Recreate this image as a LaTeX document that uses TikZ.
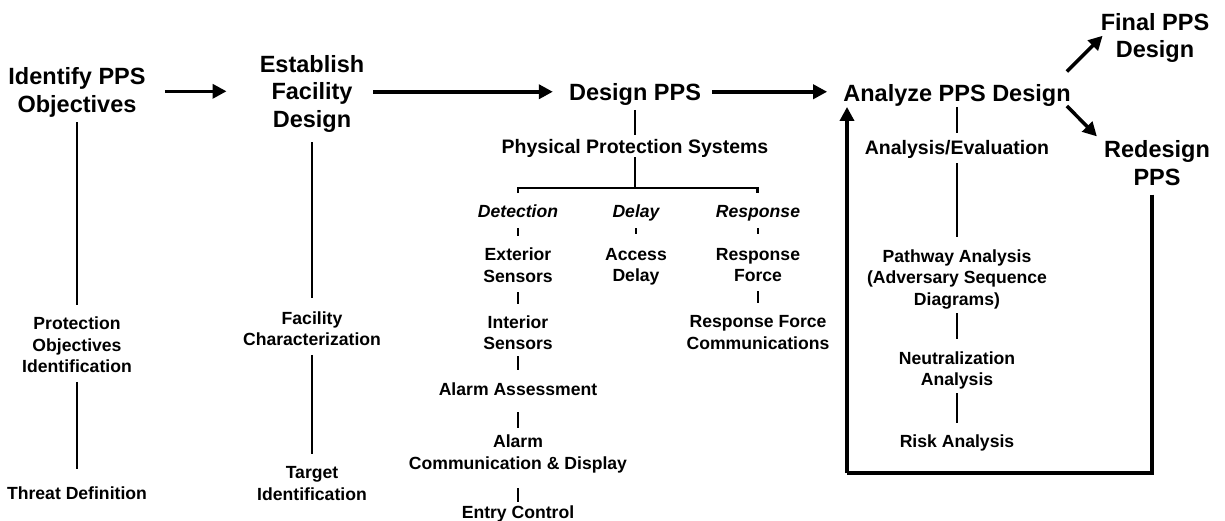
\documentclass[tikz,border=0pt]{standalone}
\usepackage{fontspec}
\setmainfont{Liberation Sans}
\usetikzlibrary{arrows.meta}
\begin{document}
\begin{tikzpicture}[x=1pt,y=-1pt,
  bigt/.style={font=\fontsize{23.5}{27.5}\selectfont\bfseries, align=center, inner sep=0pt},
  midt/.style={font=\fontsize{19.5}{23}\selectfont\bfseries, align=center, inner sep=0pt},
  leaf/.style={font=\fontsize{17.6}{21.5}\selectfont\bfseries, align=center, inner sep=0pt},
  cat/.style={font=\fontsize{17.6}{21.5}\selectfont\bfseries\itshape, inner sep=0pt},
  flow/.style={line width=3.5pt, -{Triangle[length=14pt,width=14pt]}},
  conn/.style={line width=2.3pt},
  tick/.style={line width=2.8pt},
  loopline/.style={line width=4pt}]
\useasboundingbox (0,0) rectangle (1225,520);

% main row
\node[bigt] (ident)    at (77,92.3)    {Identify PPS\\Objectives};
\node[bigt] (estab)    at (312,93.75)  {Establish\\Facility\\Design};
\node[bigt] (design)   at (635,94.75)  {Design PPS};
\node[bigt] (analyze)  at (957,95.75)  {Analyze PPS Design};
\node[bigt] (final)    at (1155,37.75) {Final PPS\\Design};
\node[bigt] (redesign) at (1157,163)   {Redesign\\PPS};

% column 1
\node[leaf] (poi)    at (77,344.8)  {Protection\\Objectives\\Identification};
\node[leaf] (threat) at (77,493.5)  {Threat Definition};
% column 2
\node[leaf] (fc)  at (312,328.75) {Facility\\Characterization};
\node[leaf] (tgt) at (312,483.5)  {Target\\Identification};
% column 3
\node[midt] (pps) at (635,148) {Physical Protection Systems};
\coordinate (brk) at (635,188);
\coordinate (bl) at (518,188);
\coordinate (br) at (757.5,188);
\node[cat] (det) at (518,211) {Detection};
\node[cat] (dly) at (636,213) {Delay};
\node[cat] (rsp) at (758,213) {Response};
\node[leaf] (ext)    at (518,265)    {Exterior\\Sensors};
\node[leaf] (acc)    at (636,266.75) {Access\\Delay};
\node[leaf] (rf)     at (758,265)    {Response\\Force};
\node[leaf] (int)    at (518,332.5)  {Interior\\Sensors};
\node[leaf] (alarmA) at (518,389)    {Alarm Assessment};
\node[leaf] (alarmC) at (518,454)    {Alarm\\Communication \& Display};
\node[leaf] (entry)  at (518,514)    {Entry Control};
\node[leaf] (rfc)    at (758,332.5)  {Response Force\\Communications};
% column 4
\node[midt] (anaeval) at (957,149)    {Analysis/Evaluation};
\node[leaf] (paths)   at (957,279)    {Pathway Analysis\\(Adversary Sequence\\Diagrams)};
\node[leaf] (neut)    at (957,370.25) {Neutralization\\Analysis};
\node[leaf] (risk)    at (957,443)    {Risk Analysis};

% flow arrows
\draw[flow, shorten <=19pt, shorten >=33pt] ([yshift=1pt]ident.east) -- ([yshift=1pt]ident.east -| estab.west);
\draw[flow, shorten <=9pt, shorten >=16pt] ([yshift=2pt]estab.east) -- ([yshift=2pt]estab.east -| design.west);
\draw[flow, shorten <=11pt, shorten >=16pt] ([yshift=3pt]design.east) -- ([yshift=3pt]design.east -| analyze.west);
\draw[flow] ([xshift=-4pt,yshift=13pt]analyze.north east) -- ([xshift=2pt,yshift=2pt]final.west);
\draw[flow] ([xshift=-4pt,yshift=1pt]analyze.south east) -- ([xshift=-7pt,yshift=4pt]redesign.north west);

% feedback loop
\coordinate (lb1) at (1152,473);
\coordinate (lb2) at (847,473);
\path (redesign.south) ++(0,9) coordinate (rs);
\draw[loopline] (rs -| lb1) -- (lb1) -- (lb2);
\draw[flow, line width=4pt] (lb2) -- (analyze.south -| lb2);

% column 1 connectors
\draw[conn, shorten <=5pt, shorten >=11.5pt] (ident) -- (poi);
\draw[conn, shorten <=9pt, shorten >=18pt] (poi) -- (threat);
% column 2 connectors
\draw[conn, shorten <=9.7pt, shorten >=13pt] (estab) -- (fc);
\draw[conn, shorten <=8.7pt, shorten >=12.5pt] (fc) -- (tgt);
% column 3 connectors
\draw[conn, shorten <=4pt, shorten >=4pt] (design) -- (pps);
\draw[conn] (pps.south -| brk) -- (brk);
\draw[conn] ([yshift=-5pt]bl) -- (bl) -- (br) -- ([yshift=-5pt]br);
\draw[tick, shorten <=17pt, shorten >=29pt] (det.center) -- (ext.center);
\draw[tick, shorten <=15pt, shorten >=32.75pt] (dly.center) -- (acc.center);
\draw[tick, shorten <=15pt, shorten >=31pt] (rsp.center) -- (rf.center);
\draw[tick, shorten <=27pt, shorten >=28.5pt] (ext.center) -- (int.center);
\draw[tick, shorten <=23.5pt, shorten >=19pt] (int.center) -- (alarmA.center);
\draw[tick, shorten <=23pt, shorten >=26pt] (alarmA.center) -- (alarmC.center);
\draw[tick, shorten <=34pt, shorten >=12pt] (alarmC.center) -- (entry.center);
\draw[tick, shorten <=26pt, shorten >=29.5pt] (rf.center) -- (rfc.center);
% column 4 connectors
\draw[conn, shorten >=6.8pt] (analyze) -- (anaeval);
\draw[conn, shorten <=5pt, shorten >=12.5pt] (anaeval) -- (paths);
\draw[conn, shorten <=4.5pt, shorten >=12.5pt] (paths) -- (neut);
\draw[conn, shorten <=4pt, shorten >=11.5pt] (neut) -- (risk);
\end{tikzpicture}
\end{document}
